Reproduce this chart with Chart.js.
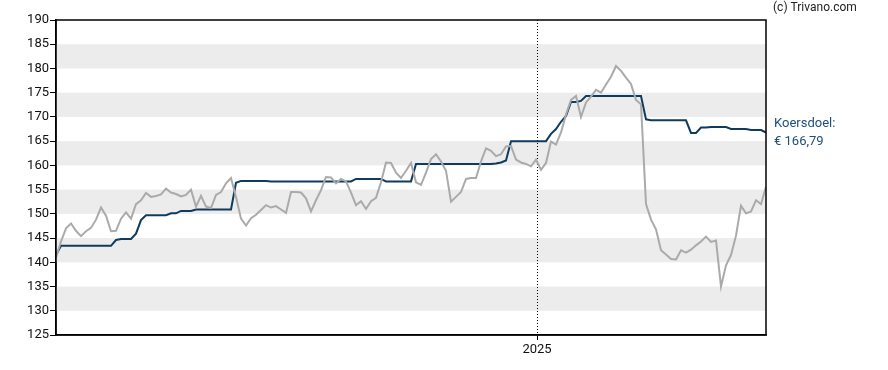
<!DOCTYPE html>
<html>
<head>
<meta charset="utf-8">
<script src="https://cdn.jsdelivr.net/npm/chart.js@4"></script>
<style>
  html, body { margin: 0; padding: 0; background: #fff; }
  #wrap { width: 888px; height: 370px; }
</style>
</head>
<body>
<div id="wrap"><canvas id="chart" width="888" height="370"></canvas></div>
<script>
// koers (grijs) en koersdoel (blauw), één waarde per handelsdag-stap
const price = [
  141.0, 144.3, 147.0, 148.0, 146.5, 145.4, 146.4, 147.1, 148.8, 151.3,
  149.6, 146.4, 146.5, 149.0, 150.3, 149.0, 152.0, 152.8, 154.3, 153.5,
  153.7, 154.0, 155.2, 154.4, 154.1, 153.6, 153.9, 155.0, 151.5, 153.7,
  151.5, 151.2, 153.9, 154.5, 156.3, 157.4, 153.5, 149.0, 147.6, 149.1,
  149.8, 150.8, 151.8, 151.3, 151.6, 150.9, 150.2, 154.5, 154.5, 154.4,
  153.2, 150.5, 152.8, 154.9, 157.6, 157.5, 156.3, 157.2, 156.7, 154.4,
  151.8, 152.6, 151.0, 152.6, 153.3, 156.5, 160.6, 160.5, 158.5, 157.4,
  158.9, 160.5, 156.5, 156.0, 158.5, 161.3, 162.3, 160.8, 158.9, 152.5,
  153.5, 154.5, 157.2, 157.4, 157.4, 160.8, 163.5, 163.0, 161.9, 162.3,
  163.9, 164.0, 161.2, 160.6, 160.3, 159.8, 161.2, 159.1, 160.5, 164.9,
  164.3, 166.8, 170.5, 173.5, 174.3, 170.0, 173.0, 174.2, 175.6, 175.0,
  176.7, 178.3, 180.5, 179.5, 178.1, 176.8, 173.5, 172.6, 152.0, 148.8,
  146.8, 142.5, 141.6, 140.7, 140.6, 142.5, 142.0, 142.6, 143.5, 144.3,
  145.3, 144.2, 144.5, 135.0, 139.4, 141.5, 145.5, 151.7, 150.1, 150.5,
  152.8, 152.0, 155.6
];

const target = [
  141.5, 143.4, 143.4, 143.4, 143.4, 143.4, 143.4, 143.4, 143.4, 143.4,
  143.4, 143.4, 144.6, 144.8, 144.8, 144.8, 145.9, 148.7, 149.7, 149.7,
  149.7, 149.7, 149.7, 150.1, 150.1, 150.6, 150.6, 150.6, 150.9, 150.9,
  150.9, 150.9, 150.9, 150.9, 150.9, 150.9, 156.4, 156.8, 156.8, 156.8,
  156.8, 156.8, 156.8, 156.7, 156.7, 156.7, 156.7, 156.7, 156.7, 156.7,
  156.7, 156.7, 156.7, 156.7, 156.7, 156.7, 156.7, 156.7, 156.7, 156.7,
  157.2, 157.2, 157.2, 157.2, 157.2, 157.2, 156.7, 156.7, 156.7, 156.7,
  156.7, 156.7, 160.3, 160.3, 160.3, 160.3, 160.3, 160.3, 160.3, 160.3,
  160.3, 160.3, 160.3, 160.3, 160.3, 160.3, 160.3, 160.3, 160.4, 160.6,
  161.0, 165.0, 165.0, 165.0, 165.0, 165.0, 165.0, 165.0, 165.0, 166.5,
  167.5, 169.0, 170.2, 173.1, 173.1, 173.3, 174.3, 174.3, 174.3, 174.3,
  174.3, 174.3, 174.3, 174.3, 174.3, 174.3, 174.3, 174.3, 169.5, 169.3,
  169.3, 169.3, 169.3, 169.3, 169.3, 169.3, 169.3, 166.7, 166.7, 167.8,
  167.8, 167.9, 167.9, 167.9, 167.9, 167.5, 167.5, 167.5, 167.5, 167.3,
  167.3, 167.3, 166.79
];

const yTicks = [125, 130, 135, 140, 145, 150, 155, 160, 165, 170, 175, 180, 185, 190];
const yearMarks = [{ at: 96.2, label: "2025" }];
const targetLabel = ["Koersdoel:", "€ 166,79"];
const copyright = "(c) Trivano.com";

const FONT = "Roboto, 'Liberation Sans', Arial, sans-serif";

const frame = {
    id: "frame",
    beforeDatasetsDraw(chart) {
        const { ctx, chartArea: a, scales: { x, y } } = chart;
        ctx.save();
        // grijze banden: 130-135, 140-145, ...
        ctx.fillStyle = "#ececec";
        for (let i = 1; i < yTicks.length - 1; i += 2) {
            const top = y.getPixelForValue(yTicks[i + 1]);
            const bot = y.getPixelForValue(yTicks[i]);
            ctx.fillRect(a.left, top, a.right - a.left, bot - top);
        }
        // stippellijn bij jaarovergang
        ctx.strokeStyle = "#000";
        ctx.lineWidth = 1;
        ctx.setLineDash([1, 2]);
        yearMarks.forEach(m => {
            const px = Math.round(x.getPixelForValue(m.at)) + 0.5;
            ctx.beginPath();
            ctx.moveTo(px, a.top);
            ctx.lineTo(px, a.bottom);
            ctx.stroke();
        });
        ctx.restore();
    },
    afterDraw(chart) {
        const { ctx, chartArea: a } = chart;
        ctx.save();
        ctx.strokeStyle = "#000";
        ctx.lineWidth = 1.5;
        ctx.strokeRect(a.left, a.top, a.right - a.left, a.bottom - a.top);

        ctx.textBaseline = "middle";
        ctx.textAlign = "left";
        ctx.font = "12px " + FONT;
        ctx.fillStyle = "#222";
        ctx.fillText(copyright, a.right + 7, 8);

        ctx.font = "13px " + FONT;
        ctx.fillStyle = "#1d4f7a";
        ctx.fillText(targetLabel[0], a.right + 8, 124);
        ctx.fillText(targetLabel[1], a.right + 8, 142);
        ctx.restore();
    }
};

new Chart(document.getElementById("chart").getContext("2d"), {
    type: "line",
    data: {
        labels: price.map((_, i) => i),
        datasets: [
            {
                label: "Koers",
                data: price,
                borderColor: "#aaaaaa",
                borderWidth: 2,
                pointRadius: 0,
                tension: 0
            },
            {
                label: "Koersdoel",
                data: target,
                borderColor: "#0f3b5f",
                borderWidth: 2,
                pointRadius: 0,
                tension: 0
            }
        ]
    },
    options: {
        responsive: false,
        animation: false,
        layout: { padding: { top: 20, right: 122, left: 0, bottom: 0 } },
        plugins: { legend: { display: false }, tooltip: { enabled: false } },
        scales: {
            x: {
                type: "linear",
                min: 0,
                max: price.length - 1,
                afterBuildTicks(scale) {
                    scale.ticks = yearMarks.map(m => ({ value: m.at, label: m.label }));
                },
                afterFit(scale) { scale.height = 35; },
                ticks: {
                    autoSkip: false,
                    maxRotation: 0,
                    padding: 2,
                    color: "#111",
                    font: { family: FONT, size: 13 },
                    callback: (v) => (yearMarks.find(m => m.at === v) || {}).label || ""
                },
                grid: { drawOnChartArea: false, tickLength: 5, color: "#000" },
                border: { color: "#000", width: 1.5 }
            },
            y: {
                min: yTicks[0],
                max: yTicks[yTicks.length - 1],
                afterBuildTicks(scale) {
                    scale.ticks = yTicks.map(v => ({ value: v }));
                },
                afterFit(scale) { scale.width = 56; },
                ticks: {
                    padding: 1,
                    color: "#111",
                    font: { family: FONT, size: 13 }
                },
                grid: { drawOnChartArea: false, tickLength: 6, color: "#000" },
                border: { color: "#000", width: 1.5 }
            }
        }
    },
    plugins: [frame]
});
</script>
</body>
</html>
